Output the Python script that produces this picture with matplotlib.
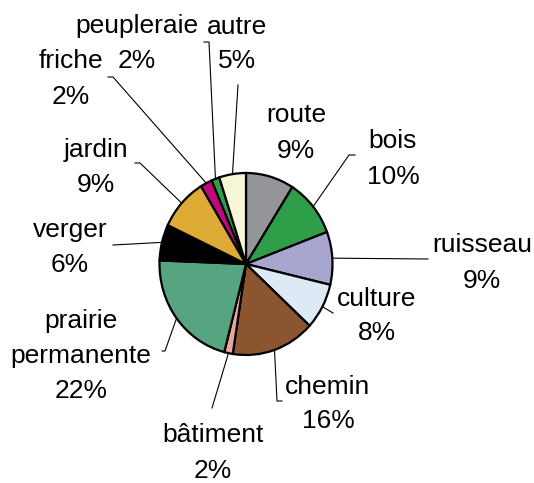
import matplotlib.pyplot as plt
from matplotlib.transforms import Affine2D
import numpy as np

# Données (sens horaire depuis le haut)
categories = ["route", "bois", "ruisseau", "culture", "chemin", "bâtiment",
              "prairie\npermanente", "verger", "jardin", "friche", "peupleraie", "autre"]
values = [9.0, 10.3, 9.4, 8.2, 15.6, 1.6, 21.6, 6.4, 9.3, 2.2, 1.5, 5.0]
colors = ["#939598", "#2e9e48", "#a8a6cf", "#dde9f5", "#8b5530", "#e6a79d",
          "#56a580", "#000000", "#dcaa35", "#c0097f", "#2e9e48", "#f7f6d9"]

W, H = 534, 483
center_px = (246, 264)
rx, ry = 86.5, 91.0  # le camembert est un peu étiré verticalement

# centre des étiquettes (pixels)
label_pos = [(296, 133), (393, 159), (482, 263), (377, 316), (328, 404), (213, 453),
             (81, 356), (70, 248), (96, 167), (71, 79), (137, 44), (237, 44)]
# points des lignes de rappel avant le bord du secteur (pixels)
leader_pts = [None,
              [(355, 155), (349, 155)],
              [(428, 259)],
              [(333, 313)],
              [(282, 401), (277, 401)],
              [(212, 408)],
              [(162, 351), (165, 351)],
              [(113, 245)],
              [(135, 163), (140, 163)],
              [(108, 77), (113, 77)],
              [(204, 42), (209, 42)],
              [(238, 85)]]
line_gap = 35


def px(x, y):
    return x, H - y


plt.rcParams['font.family'] = ['Liberation Sans', 'DejaVu Sans']

fig = plt.figure(figsize=(W / 100, H / 100), dpi=100)
ax = fig.add_axes([0, 0, 1, 1])

cx, cy = px(*center_px)
wedges, _ = ax.pie(values, colors=colors, startangle=90, counterclock=False,
                   center=(cx, cy), radius=rx,
                   wedgeprops=dict(edgecolor="black", linewidth=1.6))

stretch = Affine2D().translate(-cx, -cy).scale(1, ry / rx).translate(cx, cy)
for w in wedges:
    w.set_transform(stretch + ax.transData)

for i, w in enumerate(wedges):
    lines = categories[i].split("\n") + [f"{values[i]:.0f}%"]
    lx, ly = label_pos[i]
    n = len(lines)
    for k, s in enumerate(lines):
        yk = ly + (k - (n - 1) / 2) * line_gap
        ax.text(*px(lx, yk), s, ha="center", va="center", fontsize=19)
    if leader_pts[i] is None:
        continue
    mid = np.deg2rad((w.theta1 + w.theta2) / 2)
    edge = (cx + rx * np.cos(mid), cy + ry * np.sin(mid))
    pts = [px(*p) for p in leader_pts[i]] + [edge]
    xs, ys = zip(*pts)
    ax.plot(xs, ys, color="black", linewidth=0.8, zorder=0)

ax.set_aspect("auto")
ax.set_xlim(0, W)
ax.set_ylim(0, H)
ax.axis("off")

fig.savefig("out.png", dpi=100)
